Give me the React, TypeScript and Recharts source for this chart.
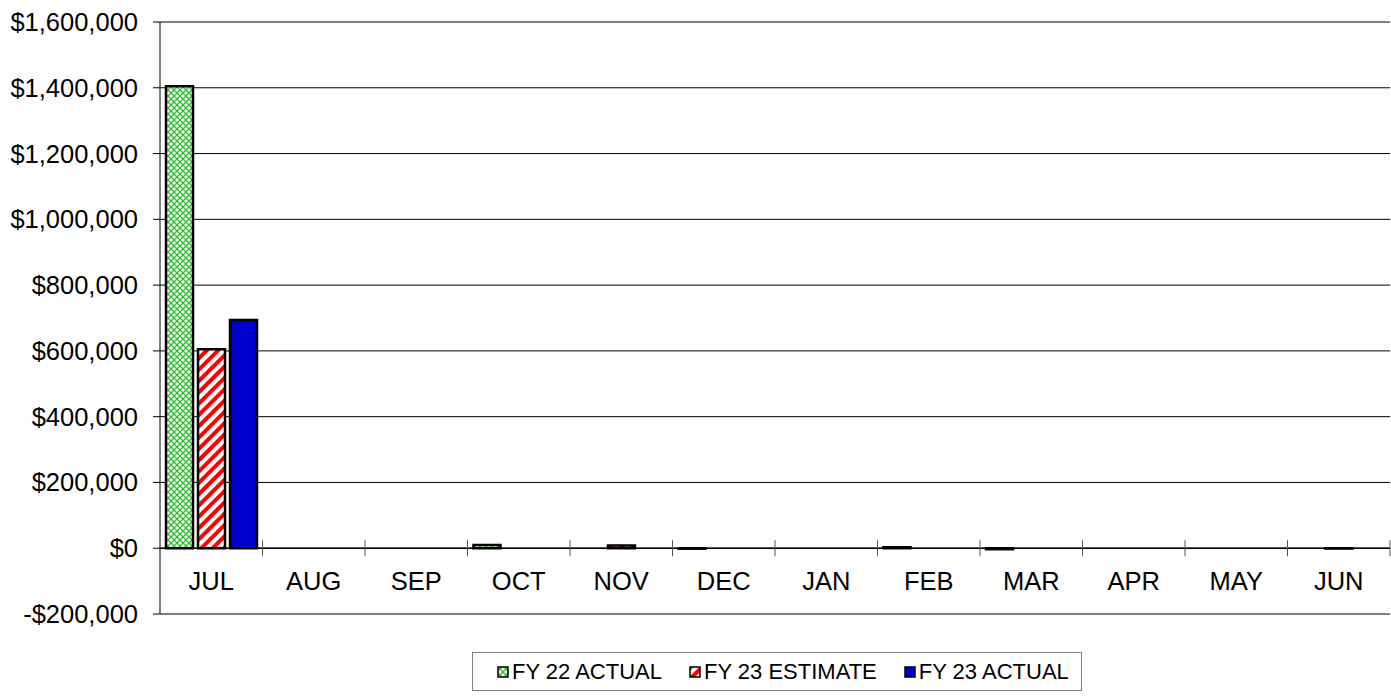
import React from 'react';
import { BarChart, Bar, XAxis, YAxis, CartesianGrid, ReferenceLine, Legend } from 'recharts';

const MONTHS = ['JUL', 'AUG', 'SEP', 'OCT', 'NOV', 'DEC', 'JAN', 'FEB', 'MAR', 'APR', 'MAY', 'JUN'];
const FY22_ACTUAL: (number | null)[] = [1405000, null, null, 10000, null, -1500, null, 3000, -3000, null, null, null];
const FY23_ESTIMATE: (number | null)[] = [605000, null, null, null, 8000, null, null, null, null, null, null, -1000];
const FY23_ACTUAL: (number | null)[] = [694000, null, null, null, null, null, null, null, null, null, null, null];
const Y_TICKS = [-200000, 0, 200000, 400000, 600000, 800000, 1000000, 1200000, 1400000, 1600000];
const SERIES_NAMES = ['FY 22 ACTUAL', 'FY 23 ESTIMATE', 'FY 23 ACTUAL'];

const data = MONTHS.map((m, i) => ({
  month: m,
  fy22: FY22_ACTUAL[i],
  fy23e: FY23_ESTIMATE[i],
  fy23a: FY23_ACTUAL[i],
}));

const W = 1391;
const H = 698;
const PLOT_LEFT = 160;
const PLOT_RIGHT = 1390;
const PLOT_TOP = 22;
const PLOT_BOTTOM = 614;
const PLOT_W = PLOT_RIGHT - PLOT_LEFT;
const PLOT_H = PLOT_BOTTOM - PLOT_TOP;
const Y_MIN = -200000;
const Y_MAX = 1600000;
const ZERO_Y = PLOT_TOP + (PLOT_H * Y_MAX) / (Y_MAX - Y_MIN);
const FONT = '"Liberation Sans", Arial, Helvetica, sans-serif';
const LEGEND_H = 39;
const XAXIS_H = 30;
const TICK_FS = 25.5;

const FILLS = ['url(#greenPat)', 'url(#redPat)', '#0000CC'];

const fmt = (v: number) => (v < 0 ? '-' : '') + '$' + Math.abs(v).toLocaleString('en-US');

const XTick = (props: any) => {
  const { x, payload } = props;
  const band = PLOT_W / MONTHS.length;
  return (
    <g>
      <text
        x={x}
        y={ZERO_Y + 33}
        textAnchor="middle"
        dominantBaseline="central"
        style={{ fontSize: TICK_FS, fontFamily: FONT }}
        fill="#000"
      >
        {payload.value}
      </text>
      <line x1={x + band / 2} x2={x + band / 2} y1={ZERO_Y - 8} y2={ZERO_Y + 8} stroke="#555" strokeWidth={1} />
    </g>
  );
};

const YTick = (props: any) => {
  const { x, y, payload } = props;
  return (
    <text
      x={x}
      y={y}
      textAnchor="end"
      dominantBaseline="central"
      style={{ fontSize: TICK_FS, fontFamily: FONT }}
      fill="#000"
    >
      {fmt(payload.value)}
    </text>
  );
};

const LegendContent = () => (
  <div
    style={{
      boxSizing: 'border-box',
      height: LEGEND_H,
      border: '1px solid #808080',
      background: '#fff',
      display: 'flex',
      alignItems: 'center',
      paddingLeft: 24,
      paddingRight: 12,
      fontFamily: FONT,
      fontSize: 22,
      color: '#000',
      whiteSpace: 'nowrap',
    }}
  >
    {SERIES_NAMES.map((n, i) => (
      <div key={n} style={{ display: 'flex', alignItems: 'center', marginRight: i < 2 ? 27 : 0 }}>
        <svg width={12} height={12} style={{ marginRight: 3 }}>
          <rect x={1} y={1} width={10} height={10} fill={FILLS[i]} stroke="#000" strokeWidth={1.5} />
        </svg>
        <span>{n}</span>
      </div>
    ))}
  </div>
);

export default function App() {
  return (
    <div style={{ position: 'absolute', left: 0, top: 0, width: W, height: H, background: '#fff' }}>
      <BarChart
        width={W}
        height={H}
        data={data}
        margin={{ top: PLOT_TOP, right: W - PLOT_RIGHT, left: 0, bottom: H - PLOT_BOTTOM - LEGEND_H - XAXIS_H }}
        barSize={27}
        barGap={5}
        style={{ fontFamily: FONT }}
      >
        <defs>
          <pattern id="greenPat" width={6} height={6} patternUnits="userSpaceOnUse">
            <rect width={6} height={6} fill="#fff" />
            <path d="M0,0L6,6M6,0L0,6" stroke="#2EC02E" strokeWidth={1.3} />
          </pattern>
          <pattern id="redPat" width={8} height={8} patternUnits="userSpaceOnUse" patternTransform="rotate(45)">
            <rect width={8} height={8} fill="#fff" />
            <rect width={4} height={8} fill="#FF0000" />
          </pattern>
        </defs>
        <CartesianGrid vertical={false} stroke="#000" strokeWidth={1} />
        <XAxis
          dataKey="month"
          height={XAXIS_H}
          axisLine={false}
          tickLine={false}
          interval={0}
          tick={<XTick />}
        />
        <YAxis
          width={PLOT_LEFT}
          domain={[Y_MIN, Y_MAX]}
          ticks={Y_TICKS}
          interval={0}
          axisLine={{ stroke: '#000', strokeWidth: 1 }}
          tickLine={{ stroke: '#000', strokeWidth: 1 }}
          tickSize={7}
          tickMargin={15}
          tick={<YTick />}
        />
        <ReferenceLine y={0} stroke="#000" strokeWidth={1.5} />
        <Bar dataKey="fy22" name={SERIES_NAMES[0]} fill={FILLS[0]} stroke="#000" strokeWidth={2.5} isAnimationActive={false} />
        <Bar dataKey="fy23e" name={SERIES_NAMES[1]} fill={FILLS[1]} stroke="#000" strokeWidth={2.5} isAnimationActive={false} />
        <Bar dataKey="fy23a" name={SERIES_NAMES[2]} fill={FILLS[2]} stroke="#000" strokeWidth={2.5} isAnimationActive={false} />
        <Legend
          verticalAlign="bottom"
          content={<LegendContent />}
          wrapperStyle={{ left: 472, bottom: H - 691, width: 'auto' }}
        />
      </BarChart>
    </div>
  );
}
